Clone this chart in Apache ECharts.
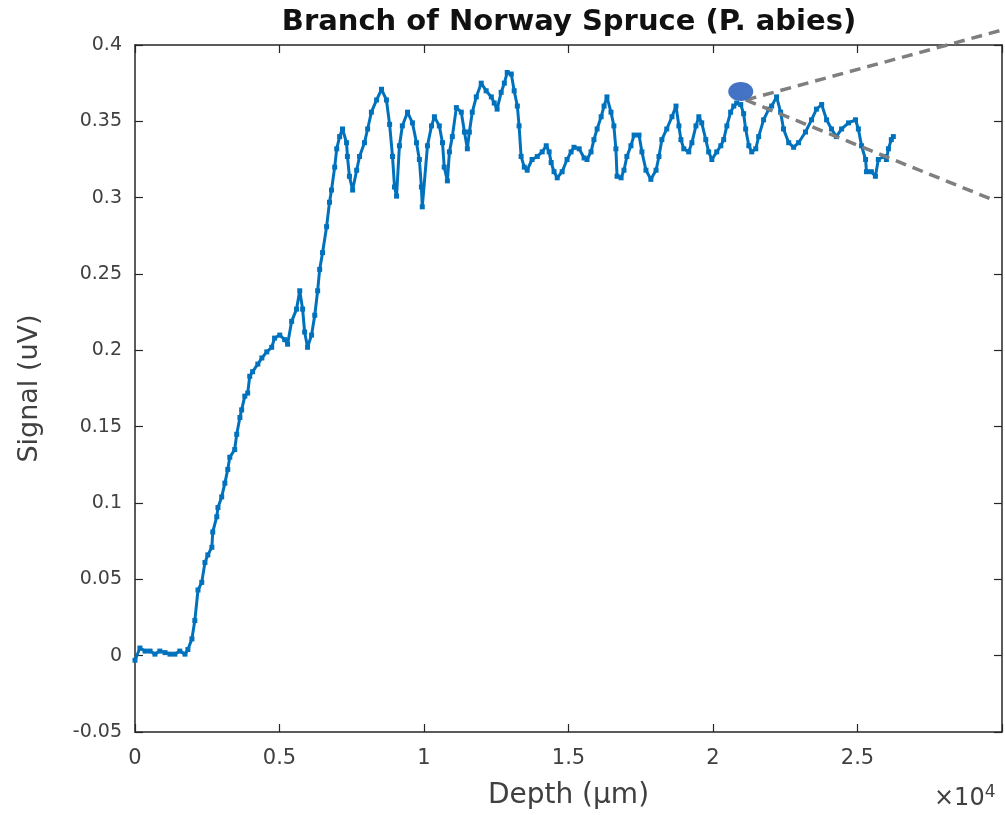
<!DOCTYPE html>
<html>
<head>
<meta charset="utf-8">
<script src="https://cdn.jsdelivr.net/npm/echarts@6/dist/echarts.min.js"></script>
<style>
html,body{margin:0;padding:0;background:#fff;}
#chart{width:1005px;height:815px;}
</style>
</head>
<body>
<div id="chart"></div>
<script>
// Depth in µm
var depth = [0,170,350,520,690,860,1040,1210,1380,1550,1730,1830,1970,2070,2180,2310,2420,2520,2660,2690,2830,2870,3000,3110,3210,3280,3450,3520,3630,3690,3800,3900,3970,4070,4250,4390,4560,4730,4830,5010,5180,5280,5420,5590,5700,5800,5870,5970,6110,6220,6320,6390,6490,6630,6730,6800,6910,6980,7080,7180,7320,7350,7420,7530,7670,7770,7940,8050,8180,8360,8530,8700,8810,8910,8980,9050,9150,9250,9430,9600,9740,9840,9910,9940,10120,10260,10360,10530,10640,10700,10810,10880,10980,11120,11290,11400,11500,11570,11670,11810,11980,12150,12330,12430,12530,12670,12780,12880,13020,13120,13230,13290,13360,13470,13570,13740,13920,14090,14230,14330,14400,14500,14610,14780,14950,15090,15190,15370,15540,15640,15780,15880,15990,16130,16230,16330,16470,16570,16640,16680,16820,16920,17020,17160,17270,17440,17540,17680,17850,18030,18130,18230,18400,18580,18720,18820,18890,18990,19160,19270,19410,19510,19610,19750,19850,19960,20130,20270,20370,20480,20610,20720,20820,20960,21060,21130,21240,21340,21480,21580,21750,21930,22030,22200,22340,22440,22620,22790,22960,23200,23410,23580,23760,23930,24100,24270,24450,24690,24930,25030,25140,25280,25310,25480,25620,25720,25900,26000,26070,26170,26240];
// Signal in uV
var signal = [-0.003,0.005,0.003,0.003,0.001,0.003,0.002,0.001,0.001,0.003,0.001,0.004,0.011,0.023,0.043,0.048,0.061,0.066,0.071,0.081,0.091,0.097,0.104,0.113,0.122,0.130,0.135,0.145,0.156,0.161,0.170,0.172,0.183,0.186,0.191,0.195,0.199,0.202,0.208,0.210,0.207,0.204,0.219,0.227,0.239,0.227,0.212,0.202,0.210,0.223,0.239,0.253,0.264,0.281,0.297,0.305,0.320,0.332,0.340,0.345,0.336,0.327,0.314,0.305,0.318,0.327,0.336,0.345,0.356,0.364,0.371,0.364,0.348,0.327,0.307,0.301,0.334,0.347,0.356,0.349,0.336,0.325,0.307,0.294,0.334,0.347,0.353,0.347,0.336,0.320,0.311,0.330,0.340,0.359,0.356,0.343,0.332,0.343,0.356,0.366,0.375,0.370,0.366,0.362,0.358,0.369,0.375,0.382,0.381,0.370,0.360,0.347,0.327,0.320,0.318,0.325,0.327,0.330,0.334,0.330,0.323,0.317,0.313,0.317,0.325,0.330,0.333,0.332,0.326,0.325,0.330,0.338,0.345,0.353,0.360,0.366,0.356,0.347,0.332,0.314,0.313,0.318,0.327,0.334,0.341,0.341,0.330,0.318,0.312,0.318,0.327,0.338,0.345,0.353,0.360,0.347,0.338,0.332,0.330,0.336,0.347,0.353,0.349,0.338,0.330,0.325,0.330,0.334,0.338,0.347,0.356,0.360,0.362,0.361,0.355,0.345,0.334,0.330,0.332,0.340,0.351,0.358,0.360,0.366,0.356,0.345,0.336,0.333,0.336,0.343,0.351,0.358,0.361,0.351,0.345,0.340,0.345,0.349,0.351,0.345,0.334,0.325,0.317,0.317,0.314,0.325,0.327,0.325,0.332,0.338,0.340];
var xTicks = [0,5000,10000,15000,20000,25000,30000];
var yTicks = [-0.05,0,0.05,0.1,0.15,0.2,0.25,0.3,0.35,0.4];
// callout annotation anchors (data coords)
var calloutDot = [20960, 0.3696];
var calloutStart = [21130, 0.364];
var calloutUpperEnd = [30040, 0.410];
var calloutLowerEnd = [29630, 0.299];

var seriesData = depth.map(function(d,i){return [d, signal[i]];});
var axisColor = '#262626';
var txtColor = '#404040';
var fontFam = 'DejaVu Sans';

function fmtY(v){ return String(Math.round(v*100)/100); }
function fmtX(v){ if (v >= 30000) return ''; return String(Math.round(v/1e4*100)/100); }

var chart = echarts.init(document.getElementById('chart'), null, {renderer:'canvas'});
var tickStyle = {show: true, inside: true, length: 8, lineStyle: {color: axisColor, width: 1.2}};
var lineStyleAx = {show: true, onZero: false, lineStyle: {color: axisColor, width: 1.5}};
var option = {
  animation: false,
  backgroundColor: '#fff',
  grid: {left: 135, right: 2, top: 45, bottom: 83, show: false},
  xAxis: [{
    type: 'value', min: xTicks[0], max: xTicks[xTicks.length-1], interval: 5000,
    position: 'bottom',
    name: 'Depth (µm)', nameLocation: 'middle', nameGap: 50,
    nameTextStyle: {fontFamily: fontFam, fontSize: 28, color: txtColor},
    axisLine: lineStyleAx, axisTick: tickStyle,
    axisLabel: {formatter: fmtX, margin: 16, fontFamily: fontFam, fontSize: 21, color: txtColor},
    splitLine: {show: false}
  },{
    type: 'value', min: xTicks[0], max: xTicks[xTicks.length-1], interval: 5000,
    position: 'top',
    axisLine: lineStyleAx, axisTick: tickStyle,
    axisLabel: {show: false}, splitLine: {show: false}
  }],
  yAxis: [{
    type: 'value', min: yTicks[0], max: yTicks[yTicks.length-1], interval: 0.05,
    position: 'left',
    name: 'Signal (uV)', nameLocation: 'middle', nameGap: 92, nameRotate: 90,
    nameTextStyle: {fontFamily: fontFam, fontSize: 27, color: txtColor},
    axisLine: lineStyleAx, axisTick: tickStyle,
    axisLabel: {formatter: fmtY, margin: 13, fontFamily: fontFam, fontSize: 19, color: txtColor},
    splitLine: {show: false}
  },{
    type: 'value', min: yTicks[0], max: yTicks[yTicks.length-1], interval: 0.05,
    position: 'right',
    axisLine: lineStyleAx, axisTick: tickStyle,
    axisLabel: {show: false}, splitLine: {show: false}
  }],
  series: [{
    type: 'line',
    xAxisIndex: 0, yAxisIndex: 0,
    data: seriesData,
    showSymbol: true,
    symbol: 'rect', symbolSize: 5,
    itemStyle: {color: '#0072BD'},
    lineStyle: {color: '#0072BD', width: 3},
    clip: false,
    z: 3
  }]
};
chart.setOption(option);

function px(p){ return chart.convertToPixel({xAxisIndex:0, yAxisIndex:0}, p); }
var d = px(calloutDot), s = px(calloutStart), u = px(calloutUpperEnd), l = px(calloutLowerEnd);
var dashStyle = {stroke: '#7f7f7f', lineWidth: 3.5, lineDash: [11, 7]};
chart.setOption({
  graphic: [
    {type: 'text', x: 569, y: 22, z: 100,
     style: {text: 'Branch of Norway Spruce (P. abies)', fontFamily: fontFam, fontWeight: 'bold', fontSize: 29,
       fill: '#111', textAlign: 'center', textVerticalAlign: 'middle'}},
    {type: 'line', shape: {x1: s[0], y1: s[1], x2: u[0], y2: u[1]}, style: dashStyle, z: 100},
    {type: 'line', shape: {x1: s[0], y1: s[1], x2: l[0], y2: l[1]}, style: dashStyle, z: 100},
    {type: 'ellipse', shape: {cx: d[0], cy: d[1], rx: 12.5, ry: 9.5}, style: {fill: '#4472C4'}, z: 101},
    {type: 'text', left: 934, top: 784, z: 100,
     style: {text: '×10{s|4}', fontFamily: fontFam, fontSize: 24, fill: txtColor,
       rich: {s: {fontSize: 17, fontFamily: fontFam, fill: txtColor, verticalAlign: 'top', padding: [0,0,12,0]}}}}
  ]
});
</script>
</body>
</html>
